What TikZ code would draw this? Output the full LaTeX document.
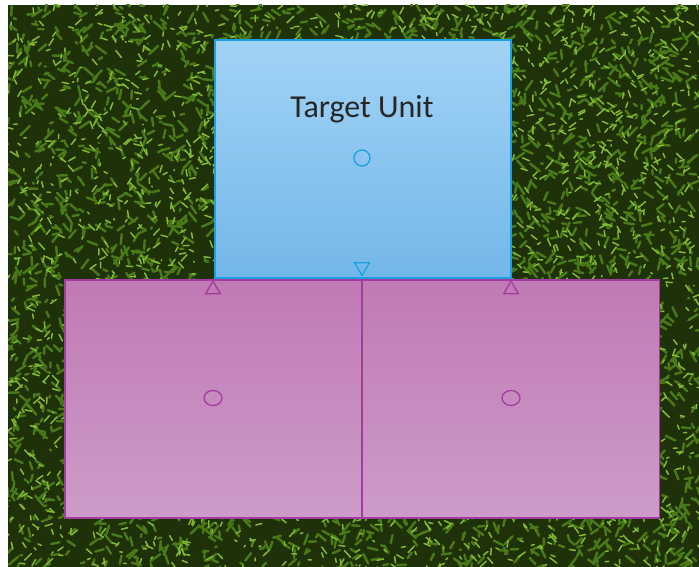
\documentclass[tikz,border=0pt]{standalone}
\usepackage{fontspec}
\setmainfont{Carlito}
\usetikzlibrary{positioning,shapes.geometric}

\definecolor{unitedge}{HTML}{1BA1E2}
\definecolor{unittop}{HTML}{A2D3F5}
\definecolor{unitbottom}{HTML}{72B7E9}
\definecolor{partedge}{HTML}{A23C9E}
\definecolor{parttop}{HTML}{C07AB4}
\definecolor{partbottom}{HTML}{CD9BC9}
\definecolor{grassdark}{HTML}{1E3109}
\definecolor{grassmid}{HTML}{4A7A18}
\definecolor{grasslight}{HTML}{84B936}

\begin{document}
\begin{tikzpicture}[
  x=1pt, y=-1pt,
  unit/.style={draw=unitedge, line width=1.4pt, top color=unittop, bottom color=unitbottom,
    minimum width=296pt, minimum height=238pt, inner sep=0pt},
  part/.style={draw=partedge, line width=1.4pt, top color=parttop, bottom color=partbottom,
    minimum width=297pt, minimum height=238pt, inner sep=0pt},
  port/.style={circle, draw, line width=1.3pt, minimum size=16pt, inner sep=0pt},
  tip/.style={regular polygon, regular polygon sides=3, draw, line width=1.3pt,
    minimum size=17pt, inner sep=0pt},
  blade/.style={line width=2.4pt, line cap=round}
]
\useasboundingbox (0,0) rectangle (699,567);

% grass background
\begin{scope}
  \clip (8,5) rectangle (699,567);
  \fill[grassdark] (8,5) rectangle (699,567);
  \pgfmathsetseed{11}
  \foreach \i in {1,...,3400}{
    \pgfmathsetmacro{\gx}{8+691*rnd}
    \pgfmathsetmacro{\gy}{5+562*rnd}
    \draw[blade, grassmid] (\gx,\gy) -- ++({10*rand},{10*rand});
  }
  \foreach \i in {1,...,2400}{
    \pgfmathsetmacro{\gx}{8+691*rnd}
    \pgfmathsetmacro{\gy}{5+562*rnd}
    \draw[blade, grasslight, line width=1.5pt] (\gx,\gy) -- ++({7*rand},{7*rand});
  }
\end{scope}

% boxes
\node[unit] (target) at (363,159) {};
\node[part] (leftpart) at (213.5,399) {};
\node[part] (rightpart) at (511,399) {};

\node[anchor=base, font=\fontsize{32}{38}\selectfont, text=black!85] (title) at (362,118) {Target Unit};

% ports
\node[port, draw=unitedge] (targetport) at (362,158) {};
\node[port, draw=partedge, minimum width=18pt, minimum height=15pt, ellipse] (leftport) at (213,398) {};
\node[port, draw=partedge, minimum width=18pt, minimum height=15pt, ellipse] (rightport) at (511,398) {};

\node[tip, draw=unitedge, shape border rotate=180] (targettip) at (362,267) {};
\node[tip, draw=partedge] (lefttip) at (213,289.5) {};
\node[tip, draw=partedge] (righttip) at (511,289.5) {};
\end{tikzpicture}
\end{document}
